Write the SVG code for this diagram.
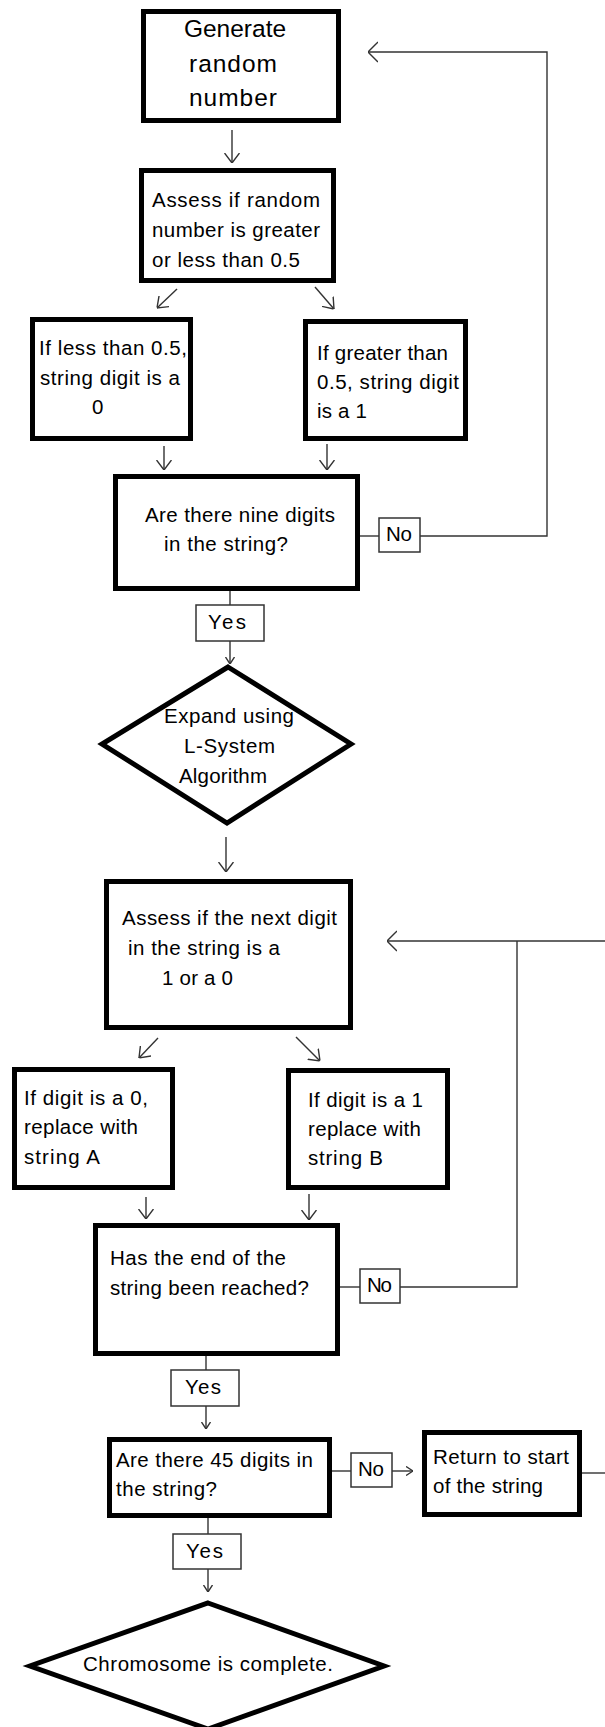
<svg xmlns="http://www.w3.org/2000/svg" width="605" height="1727" viewBox="0 0 605 1727">
<style>
.box{fill:#fff;stroke:#000;stroke-width:5}
.lbl{fill:#fff;stroke:#333;stroke-width:1.5}
.con{fill:none;stroke:#333;stroke-width:1.4}
text{font-family:"Liberation Sans",Arial,sans-serif;font-size:20.5px;fill:#000}
.big{font-size:24.5px;text-anchor:middle}
</style>
<defs>
<marker id="ah" viewBox="0 0 10 16" refX="10" refY="8" markerWidth="10" markerHeight="16" markerUnits="userSpaceOnUse" orient="auto">
<path d="M0,0.5 L10,8 L0,15.5" fill="none" stroke="#333" stroke-width="1.4"/>
</marker>
<marker id="ahl" viewBox="0 0 10 22" refX="10" refY="11" markerWidth="10" markerHeight="22" markerUnits="userSpaceOnUse" orient="auto">
<path d="M0,1 L10,11 L0,21" fill="none" stroke="#333" stroke-width="1.4"/>
</marker>
<marker id="ahs" viewBox="0 0 7 10" refX="7" refY="5" markerWidth="7" markerHeight="10" markerUnits="userSpaceOnUse" orient="auto">
<path d="M0,0.5 L7,5 L0,9.5" fill="none" stroke="#333" stroke-width="1.4"/>
</marker>
</defs>

<g id="connectors">
<line class="con" x1="232" y1="130" x2="232" y2="163" marker-end="url(#ah)"/>
<line class="con" x1="177" y1="289" x2="157" y2="308" marker-end="url(#ah)"/>
<line class="con" x1="315" y1="287" x2="334" y2="309" marker-end="url(#ah)"/>
<line class="con" x1="164" y1="446" x2="164" y2="470" marker-end="url(#ah)"/>
<line class="con" x1="327" y1="444" x2="327" y2="470" marker-end="url(#ah)"/>
<line class="con" x1="360" y1="536" x2="379" y2="536"/>
<polyline class="con" points="420,536 547,536 547,52 368,52" marker-end="url(#ahl)"/>
<line class="con" x1="230" y1="591" x2="230" y2="605"/>
<line class="con" x1="230" y1="641" x2="230" y2="664" marker-end="url(#ahs)"/>
<line class="con" x1="226" y1="837" x2="226" y2="872" marker-end="url(#ah)"/>
<line class="con" x1="158" y1="1038" x2="139" y2="1058" marker-end="url(#ah)"/>
<line class="con" x1="296" y1="1037" x2="320" y2="1061" marker-end="url(#ah)"/>
<line class="con" x1="146" y1="1197" x2="146" y2="1219" marker-end="url(#ah)"/>
<line class="con" x1="309" y1="1194" x2="309" y2="1220" marker-end="url(#ah)"/>
<line class="con" x1="340" y1="1287" x2="360" y2="1287"/>
<polyline class="con" points="400,1287 517,1287 517,941"/>
<line class="con" x1="605" y1="941" x2="387" y2="941" marker-end="url(#ahl)"/>
<line class="con" x1="206" y1="1356" x2="206" y2="1370"/>
<line class="con" x1="206" y1="1406" x2="206" y2="1429" marker-end="url(#ahs)"/>
<line class="con" x1="332" y1="1471" x2="351" y2="1471"/>
<line class="con" x1="392" y1="1471" x2="413" y2="1471" marker-end="url(#ahs)"/>
<line class="con" x1="582" y1="1473" x2="605" y2="1473"/>
<line class="con" x1="208" y1="1518" x2="208" y2="1534"/>
<line class="con" x1="208" y1="1569" x2="208" y2="1592" marker-end="url(#ahs)"/>
</g>

<g id="generate">
<rect class="box" x="143.5" y="11.5" width="195" height="109"/>
<text class="big" x="235" y="37">Generate</text>
<text class="big" x="233" y="72" textLength="88">random</text>
<text class="big" x="233" y="106" textLength="88">number</text>
</g>

<g id="assess-random">
<rect class="box" x="141.5" y="170.5" width="192" height="110"/>
<text x="152" y="207" textLength="168">Assess if random</text>
<text x="152" y="237" textLength="168">number is greater</text>
<text x="152" y="267" textLength="148">or less than 0.5</text>
</g>

<g id="less-than">
<rect class="box" x="32.5" y="319.5" width="158" height="119"/>
<text x="39" y="355" textLength="148">If less than 0.5,</text>
<text x="40" y="385" textLength="140">string digit is a</text>
<text x="92" y="414">0</text>
</g>

<g id="greater-than">
<rect class="box" x="305.5" y="321.5" width="160" height="117"/>
<text x="317" y="360" textLength="131">If greater than</text>
<text x="317" y="389" textLength="142">0.5, string digit</text>
<text x="317" y="418" textLength="50">is a 1</text>
</g>

<g id="nine-digits">
<rect class="box" x="115.5" y="476.5" width="242" height="112"/>
<text x="145" y="522" textLength="190">Are there nine digits</text>
<text x="164" y="551" textLength="124">in the string?</text>
</g>

<g id="no-1">
<rect class="lbl" x="379" y="518" width="41" height="34"/>
<text x="386" y="541" textLength="26">No</text>
</g>

<g id="yes-1">
<rect class="lbl" x="196" y="605" width="68" height="36"/>
<text x="208" y="629" textLength="38">Yes</text>
</g>

<g id="expand">
<polygon class="box" points="228,667 351,744 227,823 102,744"/>
<text x="164" y="723" textLength="130">Expand using</text>
<text x="184" y="753" textLength="91">L-System</text>
<text x="179" y="783" textLength="88">Algorithm</text>
</g>

<g id="assess-digit">
<rect class="box" x="106.5" y="881.5" width="244" height="146"/>
<text x="122" y="925" textLength="215">Assess if the next digit</text>
<text x="128" y="955" textLength="152">in the string is a</text>
<text x="162" y="985" textLength="71">1 or a 0</text>
</g>

<g id="digit-zero">
<rect class="box" x="14.5" y="1069.5" width="158" height="118"/>
<text x="24" y="1105" textLength="124">If digit is a 0,</text>
<text x="24" y="1134" textLength="114">replace with</text>
<text x="24" y="1164" textLength="76">string A</text>
</g>

<g id="digit-one">
<rect class="box" x="288.5" y="1070.5" width="159" height="117"/>
<text x="308" y="1107" textLength="115">If digit is a 1</text>
<text x="308" y="1136" textLength="113">replace with</text>
<text x="308" y="1165" textLength="75">string B</text>
</g>

<g id="end-reached">
<rect class="box" x="95.5" y="1225.5" width="242" height="128"/>
<text x="110" y="1265" textLength="176">Has the end of the</text>
<text x="110" y="1295" textLength="199">string been reached?</text>
</g>

<g id="no-2">
<rect class="lbl" x="360" y="1269" width="40" height="34"/>
<text x="367" y="1292" textLength="25">No</text>
</g>

<g id="yes-2">
<rect class="lbl" x="171" y="1370" width="68" height="36"/>
<text x="185" y="1394" textLength="36">Yes</text>
</g>

<g id="forty-five">
<rect class="box" x="109.5" y="1439.5" width="220" height="76"/>
<text x="116" y="1467" textLength="197">Are there 45 digits in</text>
<text x="116" y="1496" textLength="101">the string?</text>
</g>

<g id="no-3">
<rect class="lbl" x="351" y="1453" width="41" height="34"/>
<text x="358" y="1476" textLength="26">No</text>
</g>

<g id="return-start">
<rect class="box" x="424.5" y="1432.5" width="155" height="82"/>
<text x="433" y="1464" textLength="136">Return to start</text>
<text x="433" y="1493" textLength="110">of the string</text>
</g>

<g id="yes-3">
<rect class="lbl" x="173" y="1534" width="68" height="35"/>
<text x="186" y="1558" textLength="37">Yes</text>
</g>

<g id="complete">
<polygon class="box" points="208,1603 384,1666 208,1729 30,1666"/>
<text x="83" y="1671" textLength="250">Chromosome is complete.</text>
</g>
</svg>
